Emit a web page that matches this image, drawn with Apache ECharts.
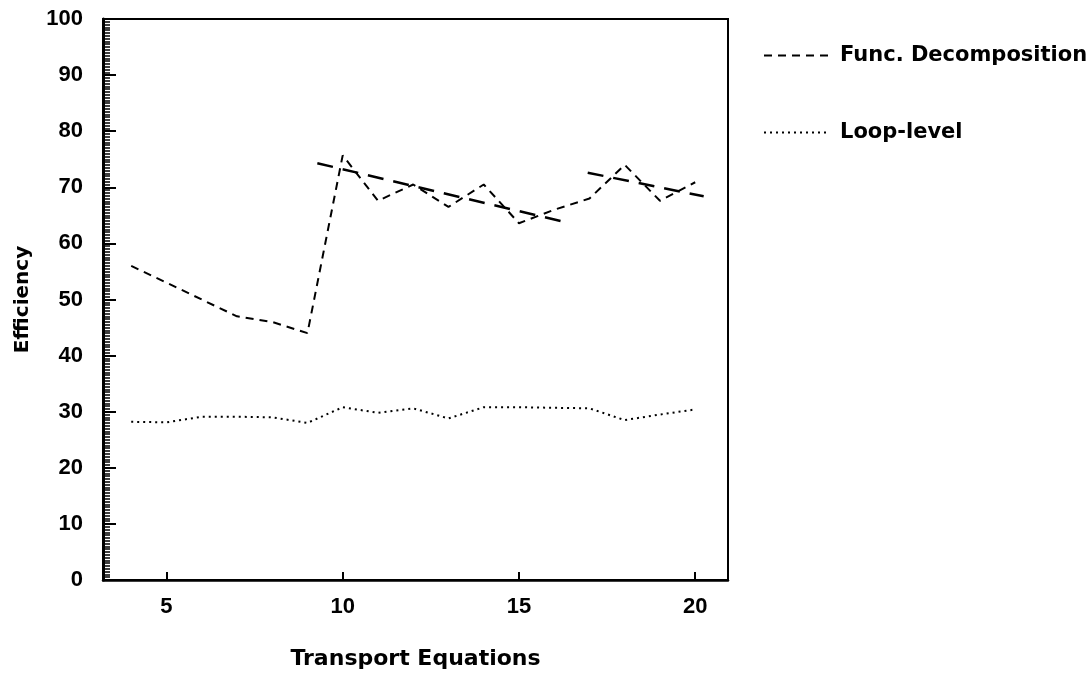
<!DOCTYPE html>
<html>
<head>
<meta charset="utf-8">
<script src="https://cdn.jsdelivr.net/npm/echarts@6/dist/echarts.min.js"></script>
<style>
html,body{margin:0;padding:0;background:#fff;}
#chart{width:1089px;height:675px;}
</style>
</head>
<body>
<div id="chart"></div>
<script>
const xValues = [4, 5, 6, 7, 8, 9, 10, 11, 12, 13, 14, 15, 16, 17, 18, 19, 20];
const funcDecomposition = [56, 53, 50, 47, 46, 44, 75.7, 67.6, 70.5, 66.5, 70.5, 63.6, 66, 68, 74, 67.6, 70.9];
const loopLevel = [28.2, 28.1, 29.1, 29.1, 29.0, 28.0, 30.8, 29.8, 30.6, 28.8, 30.8, 30.8, 30.7, 30.6, 28.5, 29.5, 30.4];
const trend1X = [9.28, 16.37];
const trend1Y = [74.3, 63.7];
const trend2X = [16.95, 20.24];
const trend2Y = [72.6, 68.4];
const xTicks = [5, 10, 15, 20];
const seriesNames = ['Func. Decomposition', 'Loop-level'];

const pair = (xs, ys) => xs.map((x, i) => [x, ys[i]]);
const FONT = 'DejaVu Sans';
const NUMFONT = 'Liberation Sans';

const chart = echarts.init(document.getElementById('chart'), null, {renderer: 'canvas'});
chart.setOption({
  animation: false,
  backgroundColor: '#fff',
  grid: {left: 103, right: 361, top: 19, bottom: 95, show: true, borderColor: '#000', borderWidth: 2, backgroundColor: 'transparent'},
  legend: {
    data: seriesNames,
    orient: 'vertical',
    left: 758,
    top: 40,
    itemWidth: 65,
    itemHeight: 14,
    itemGap: 56,
    itemStyle: {opacity: 0},
    textStyle: {fontFamily: FONT, fontWeight: 'bold', fontSize: 21, color: '#000', padding: [0, 0, 0, 6]}
  },
  xAxis: {
    type: 'value',
    min: 3.2,
    max: 20.93,
    name: 'Transport Equations',
    nameLocation: 'middle',
    nameGap: 68,
    nameTextStyle: {fontFamily: FONT, fontWeight: 'bold', fontSize: 22, color: '#000'},
    axisLine: {lineStyle: {color: '#000', width: 2.5}},
    axisTick: {inside: true, length: 8, lineStyle: {color: '#000', width: 2}, customValues: xTicks},
    axisLabel: {customValues: xTicks, margin: 16, fontFamily: NUMFONT, fontWeight: 'bold', fontSize: 22, color: '#000'},
    splitLine: {show: false}
  },
  yAxis: {
    type: 'value',
    min: 0,
    max: 100,
    interval: 10,
    name: 'Efficiency',
    nameLocation: 'middle',
    nameGap: 70,
    nameTextStyle: {fontFamily: FONT, fontWeight: 'bold', fontSize: 20, color: '#000'},
    axisLine: {show: true, lineStyle: {color: '#000', width: 3}},
    axisTick: {show: true, inside: true, length: 13, lineStyle: {color: '#000', width: 2}},
    minorTick: {show: true, splitNumber: 20, length: 7, lineStyle: {color: '#000', width: 1.5}},
    axisLabel: {margin: 20, fontFamily: NUMFONT, fontWeight: 'bold', fontSize: 22, color: '#000'},
    splitLine: {show: false}
  },
  series: [
    {
      name: seriesNames[0], type: 'line', symbol: 'none',
      data: pair(xValues, funcDecomposition),
      lineStyle: {color: '#000', width: 2, type: [8, 6]},
      itemStyle: {color: '#000'}
    },
    {
      name: seriesNames[1], type: 'line', symbol: 'none',
      data: pair(xValues, loopLevel),
      lineStyle: {color: '#000', width: 2, type: [2, 4]},
      itemStyle: {color: '#000'}
    },
    {
      name: 'trend1', type: 'line', symbol: 'none',
      data: pair(trend1X, trend1Y),
      lineStyle: {color: '#000', width: 2.5, type: [16, 10]}
    },
    {
      name: 'trend2', type: 'line', symbol: 'none',
      data: pair(trend2X, trend2Y),
      lineStyle: {color: '#000', width: 2.5, type: [16, 10]}
    }
  ]
});
</script>
</body>
</html>
